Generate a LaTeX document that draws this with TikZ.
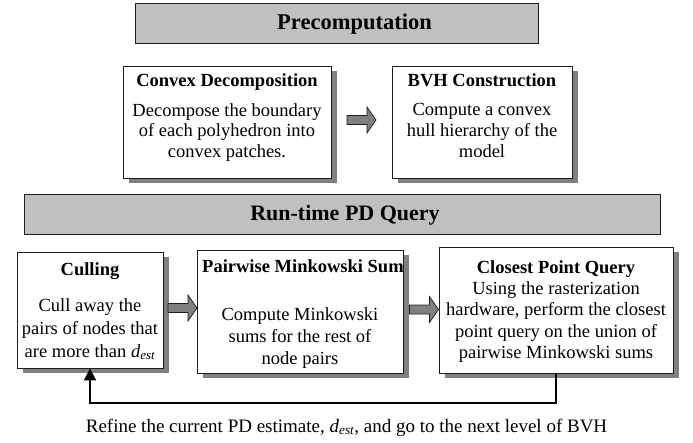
\documentclass[tikz,border=0pt]{standalone}
\usepackage{amsmath}
\usepackage{fontspec}
\setmainfont{Liberation Serif}
\usetikzlibrary{shadows,arrows.meta}
\definecolor{bandgray}{HTML}{C0C0C0}
\definecolor{shadegray}{HTML}{808080}
\definecolor{edgegray}{HTML}{1E1E1E}
\newcommand{\dest}{\textit{d}$_{\text{\itshape est}}$}
\tikzset{
  band/.style={draw=edgegray, line width=1pt, fill=bandgray, inner sep=0pt},
  stepbox/.style={draw=edgegray, line width=0.9pt, fill=white, inner sep=0pt,
    drop shadow={shadow xshift=6pt, shadow yshift=-5pt, fill=shadegray, opacity=1}},
  bandtitle/.style={font=\fontsize{22.5}{26}\selectfont\bfseries, inner sep=0pt, anchor=base},
  boxtitle/.style={font=\fontsize{18.5}{22}\selectfont\bfseries, inner sep=0pt, anchor=base},
  bodytext/.style={inner sep=0pt, anchor=north, align=center},
  blockarr/.pic={\draw[draw=edgegray, line width=0.7pt, fill=shadegray]
    (0,0) -- (-9,13) -- (-9,4.5) -- (-29,4.5) -- (-29,-4.5) -- (-9,-4.5) -- (-9,-13) -- cycle;},
  feedback/.style={line width=2pt, -{Triangle[length=12pt,width=12pt]}}
}
\begin{document}
\begin{tikzpicture}[x=1pt,y=1pt]
\useasboundingbox (0,0) rectangle (693,-442);

% Precomputation
\node[band, minimum width=403pt, minimum height=40pt] (pre) at (336.5,-23) {};
\node[bandtitle] (pret) at (354.5,-29) {Precomputation};

\node[stepbox, minimum width=208pt, minimum height=112pt] (cd) at (227,-122) {};
\node[boxtitle] (cdt) at (227,-86) {Convex Decomposition};
\node[bodytext, font=\fontsize{18.5}{20.5}\selectfont] (cdb) at (227,-101.65)
  {\strut Decompose the boundary\\ of each polyhedron into\\ convex patches.};

\node[stepbox, minimum width=180pt, minimum height=112pt] (bvh) at (482,-122) {};
\node[boxtitle] (bvht) at (482,-86) {BVH Construction};
\node[bodytext, font=\fontsize{18.5}{21}\selectfont] (bvhb) at (482,-100.3)
  {\strut Compute a convex\\ hull hierarchy of the\\ model};

\pic (a1) at (376,-120) {blockarr};

% Run-time
\node[band, minimum width=636pt, minimum height=40pt] (rt) at (342,-214) {};
\node[bandtitle, font=\fontsize{22}{26}\selectfont\bfseries] (rtt) at (345,-220) {Run-time PD Query};

\node[stepbox, minimum width=146pt, minimum height=116pt] (cu) at (90,-310) {};
\node[boxtitle] (cut) at (90,-275) {Culling};
\node[bodytext, font=\fontsize{18.5}{23}\selectfont] (cub) at (90,-294.9)
  {\strut Cull away the\\ pairs of nodes that\\ are more than \dest};

\node[stepbox, minimum width=206pt, minimum height=123pt] (pm) at (300,-311.5) {};
\node[boxtitle, anchor=base west] (pmt) at (202,-272) {Pairwise Minkowski Sum};
\node[bodytext, font=\fontsize{18.5}{22}\selectfont] (pmb) at (300,-304.6)
  {\strut Compute Minkowski\\ sums for the rest of\\ node pairs};

\node[stepbox, minimum width=234pt, minimum height=126pt] (cp) at (556,-310) {};
\node[boxtitle] (cpt) at (556,-273) {Closest Point Query};
\node[bodytext, font=\fontsize{18.5}{21.5}\selectfont] (cpb) at (556,-278.95)
  {\strut Using the rasterization\\ hardware, perform the closest\\ point query on the union of\\ pairwise Minkowski sums};

\pic (a2) at (197,-308) {blockarr};
\pic (a3) at (438.5,-309.5) {blockarr};

% feedback loop
\draw[feedback] (cp.south) -- ++(0,-30) coordinate (loopcorner) -| (cu.south);
\node[inner sep=0pt, anchor=base, font=\fontsize{19}{22}\selectfont] (refine) at (346.5,-432)
  {Refine the current PD estimate, \dest, and go to the next level of BVH};
\end{tikzpicture}
\end{document}
